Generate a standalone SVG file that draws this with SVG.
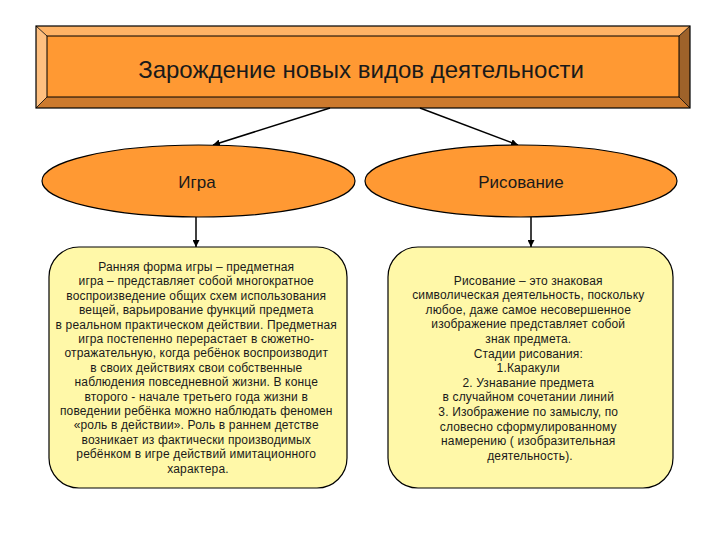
<svg xmlns="http://www.w3.org/2000/svg" width="720" height="540" viewBox="0 0 720 540">
<defs>
<marker id="ah" viewBox="0 0 10 10" refX="10" refY="5" markerWidth="7" markerHeight="7" markerUnits="userSpaceOnUse" orient="auto"><path d="M0,0 L10,5 L0,10 z" fill="#000"/></marker>
<style>
.t{font-family:"Liberation Sans",Arial,sans-serif;fill:#1a1a1a;text-anchor:middle}
.body{font-size:12px;letter-spacing:0.15px}
.ell{fill:#FF9933;stroke:#000;stroke-width:1.2}
.box{fill:#FFF8A8;stroke:#000;stroke-width:1.2}
.conn{stroke:#000;stroke-width:1.5;fill:none;marker-end:url(#ah)}
</style>
</defs>
<rect width="720" height="540" fill="#fff"/>
<g id="banner">
<polygon points="36,26 690,26 679,36 47,36" fill="#FFB366"/>
<polygon points="36,26 47,36 47,97 36,108" fill="#FFC080"/>
<polygon points="690,26 690,108 679,97 679,36" fill="#9E622A"/>
<polygon points="36,108 47,97 679,97 690,108" fill="#CC7A2E"/>
<rect x="47" y="36" width="632" height="61" fill="#FF9933" stroke="#000" stroke-width="1"/>
<rect x="36" y="26" width="654" height="82" fill="none" stroke="#000" stroke-width="1.2"/>
<path d="M36,26 L47,36 M690,26 L679,36 M36,108 L47,97 M690,108 L679,97" stroke="#000" stroke-width="0.8"/>
<text class="t" x="361" y="78" font-size="24">Зарождение новых видов деятельности</text>
</g>
<g id="connectors">
<line class="conn" x1="330" y1="108" x2="213" y2="145"/>
<line class="conn" x1="420" y1="108" x2="518" y2="145"/>
<line class="conn" x1="196" y1="217" x2="196" y2="247"/>
<line class="conn" x1="531" y1="217" x2="531" y2="247"/>
</g>
<g id="igra">
<ellipse class="ell" cx="198.5" cy="181" rx="156.5" ry="36"/>
<text class="t" x="197" y="188" font-size="17">Игра</text>
</g>
<g id="risovanie">
<ellipse class="ell" cx="521" cy="181" rx="156" ry="36"/>
<text class="t" x="521" y="188" font-size="17">Рисование</text>
</g>
<g id="igra-box">
<rect class="box" x="49" y="247" width="298" height="241" rx="30" ry="30"/>
<text class="t body" x="198">
<tspan x="198" y="271">Ранняя форма игры – предметная</tspan>
<tspan x="198" y="285.4">игра – представляет собой  многократное</tspan>
<tspan x="198" y="299.8">воспроизведение  общих схем использования</tspan>
<tspan x="198" y="314.2">вещей, варьирование функций предмета</tspan>
<tspan x="198" y="328.6">в реальном практическом действии. Предметная</tspan>
<tspan x="198" y="343">игра постепенно перерастает в сюжетно-</tspan>
<tspan x="198" y="357.4">отражательную, когда ребёнок воспроизводит</tspan>
<tspan x="198" y="371.8">в своих действиях  свои собственные</tspan>
<tspan x="198" y="386.2">наблюдения  повседневной жизни. В конце</tspan>
<tspan x="198" y="400.6">второго - начале третьего года жизни в</tspan>
<tspan x="198" y="415">поведении ребёнка можно наблюдать феномен</tspan>
<tspan x="198" y="429.4">«роль в действии». Роль в раннем детстве</tspan>
<tspan x="198" y="443.8">возникает из фактически производимых</tspan>
<tspan x="198" y="458.2">ребёнком в игре действий имитационного</tspan>
<tspan x="198" y="472.6">характера.</tspan>
</text>
</g>
<g id="risovanie-box">
<rect class="box" x="388" y="247" width="285" height="241" rx="30" ry="30"/>
<text class="t body" x="530">
<tspan x="530" y="284.5">Рисование – это знаковая</tspan>
<tspan x="530" y="299.1">символическая деятельность, поскольку</tspan>
<tspan x="530" y="313.7">любое, даже самое несовершенное</tspan>
<tspan x="530" y="328.3">изображение представляет собой</tspan>
<tspan x="530" y="342.9">знак предмета.</tspan>
<tspan x="530" y="357.5">Стадии рисования:</tspan>
<tspan x="530" y="372.1">1.Каракули</tspan>
<tspan x="530" y="386.7">2. Узнавание предмета</tspan>
<tspan x="530" y="401.3">в случайном сочетании линий</tspan>
<tspan x="530" y="415.9">3. Изображение по замыслу, по</tspan>
<tspan x="530" y="430.5">словесно сформулированному</tspan>
<tspan x="530" y="445.1">намерению ( изобразительная</tspan>
<tspan x="530" y="459.7">деятельность).</tspan>
</text>
</g>
</svg>
